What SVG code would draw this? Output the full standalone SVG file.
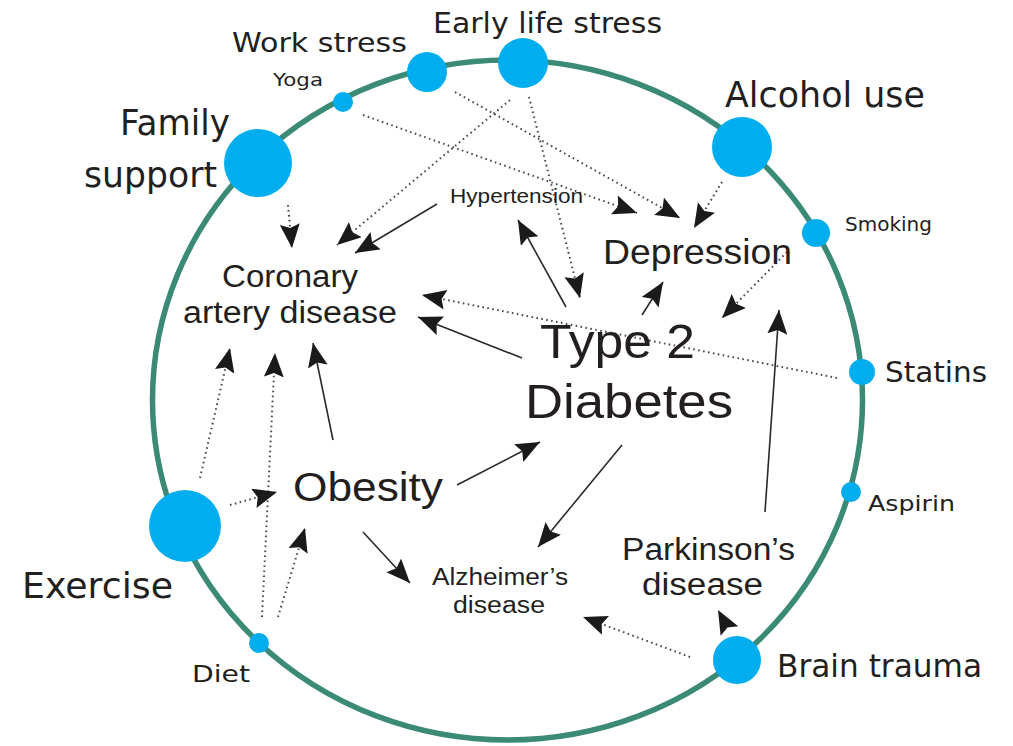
<svg xmlns="http://www.w3.org/2000/svg" width="1013" height="746" viewBox="0 0 1013 746">
<style>
.ring{fill:none;stroke:#3b8a76;stroke-width:5.5}
.dot{fill:#00aeef}
.lbl{font-family:"Comic Sans MS","DejaVu Sans",sans-serif;fill:#231f20}
.in{font-family:"Liberation Sans",Arial,sans-serif;fill:#231f20}
.sol{fill:none;stroke:#2a2a2a;stroke-width:1.6;marker-end:url(#ah)}
.dt{fill:none;stroke:#4a4a4a;stroke-width:2;stroke-dasharray:1.6 3.4;marker-end:url(#ah)}
</style>
<defs>
<marker id="ah" markerUnits="userSpaceOnUse" markerWidth="26" markerHeight="22" refX="24" refY="10" orient="auto">
<path d="M0,0 L24,10 L0,20 L4,10 z" fill="#1a1a1a"/>
</marker>
</defs>
<rect width="1013" height="746" fill="#fff"/>
<ellipse class="ring" cx="507.5" cy="400" rx="355" ry="340"/>

<g id="connectors">
<path class="dt" d="M288,205 L292,248"/>
<path class="dt" d="M510,100 L337,245"/>
<path class="dt" d="M363,115 L637,213"/>
<path class="dt" d="M455,92 L680,218"/>
<path class="dt" d="M722,182 L694,228"/>
<path class="dt" d="M529,97 L580,298"/>
<path class="dt" d="M787,252 L722,318"/>
<path class="dt" d="M837,378 L422,295"/>
<path class="dt" d="M200,478 L230,348"/>
<path class="dt" d="M262,617 L275,353"/>
<path class="dt" d="M278,617 L305,528"/>
<path class="dt" d="M230,505 L277,492"/>
<path class="dt" d="M690,657 L583,617"/>
<path class="sol" d="M437,204 L355,253"/>
<path class="sol" d="M522,358 L418,317"/>
<path class="sol" d="M333,440 L313,343"/>
<path class="sol" d="M457,485 L540,442"/>
<path class="sol" d="M566,307 L518,220"/>
<path class="sol" d="M642,315 L663,282"/>
<path class="sol" d="M622,445 L538,547"/>
<path class="sol" d="M765,512 L779,310"/>
<path class="sol" d="M363,532 L410,583"/>
<path class="sol" style="stroke:none" d="M731,634 L718,610"/>
</g>

<g id="work-stress"><circle class="dot" cx="427" cy="72" r="20"/><text class="lbl" x="232" y="52" font-size="27" textLength="175" lengthAdjust="spacingAndGlyphs">Work stress</text></g>
<g id="early-life-stress"><circle class="dot" cx="523" cy="63" r="25"/><text class="lbl" x="433" y="33" font-size="29" textLength="229" lengthAdjust="spacingAndGlyphs">Early life stress</text></g>
<g id="yoga"><circle class="dot" cx="343" cy="102" r="10"/><text class="lbl" x="273" y="86" font-size="17" textLength="50" lengthAdjust="spacingAndGlyphs">Yoga</text></g>
<g id="family-support"><circle class="dot" cx="258" cy="163" r="34"/><text class="lbl" x="120" y="135" font-size="35" textLength="110" lengthAdjust="spacingAndGlyphs">Family</text><text class="lbl" x="84" y="187" font-size="35" textLength="133" lengthAdjust="spacingAndGlyphs">support</text></g>
<g id="alcohol-use"><circle class="dot" cx="742" cy="147" r="30"/><text class="lbl" x="725" y="107" font-size="35" textLength="200" lengthAdjust="spacingAndGlyphs">Alcohol use</text></g>
<g id="smoking"><circle class="dot" cx="816" cy="233" r="14"/><text class="lbl" x="845" y="231" font-size="19" textLength="87" lengthAdjust="spacingAndGlyphs">Smoking</text></g>
<g id="statins"><circle class="dot" cx="862" cy="372" r="13"/><text class="lbl" x="885" y="382" font-size="28" textLength="102" lengthAdjust="spacingAndGlyphs">Statins</text></g>
<g id="aspirin"><circle class="dot" cx="851" cy="492" r="10"/><text class="lbl" x="868" y="511" font-size="22" textLength="87" lengthAdjust="spacingAndGlyphs">Aspirin</text></g>
<g id="brain-trauma"><circle class="dot" cx="737" cy="660" r="24"/><text class="lbl" x="777" y="677" font-size="32" textLength="205" lengthAdjust="spacingAndGlyphs">Brain trauma</text></g>
<g id="diet"><circle class="dot" cx="259" cy="643" r="10"/><text class="lbl" x="192" y="682" font-size="23" textLength="58" lengthAdjust="spacingAndGlyphs">Diet</text></g>
<g id="exercise"><circle class="dot" cx="185" cy="526" r="36"/><text class="lbl" x="22" y="598" font-size="36" textLength="151" lengthAdjust="spacingAndGlyphs">Exercise</text></g>

<g id="hypertension"><text class="in" x="450" y="203" font-size="21" textLength="133" lengthAdjust="spacingAndGlyphs">Hypertension</text></g>
<g id="coronary-artery-disease"><text class="in" x="222" y="287" font-size="31" textLength="136" lengthAdjust="spacingAndGlyphs">Coronary</text><text class="in" x="183" y="323" font-size="31" textLength="214" lengthAdjust="spacingAndGlyphs">artery disease</text></g>
<g id="depression"><text class="in" x="603" y="264" font-size="35" textLength="189" lengthAdjust="spacingAndGlyphs">Depression</text></g>
<g id="type-2-diabetes"><text class="in" x="540" y="358" font-size="49" textLength="155" lengthAdjust="spacingAndGlyphs">Type 2</text><text class="in" x="525" y="418" font-size="49" textLength="208" lengthAdjust="spacingAndGlyphs">Diabetes</text></g>
<g id="obesity"><text class="in" x="293" y="501" font-size="40" textLength="150" lengthAdjust="spacingAndGlyphs">Obesity</text></g>
<g id="alzheimers-disease"><text class="in" x="432" y="585" font-size="23" textLength="136" lengthAdjust="spacingAndGlyphs">Alzheimer’s</text><text class="in" x="453" y="613" font-size="23" textLength="92" lengthAdjust="spacingAndGlyphs">disease</text></g>
<g id="parkinsons-disease"><text class="in" x="622" y="560" font-size="31" textLength="173" lengthAdjust="spacingAndGlyphs">Parkinson’s</text><text class="in" x="642" y="595" font-size="31" textLength="121" lengthAdjust="spacingAndGlyphs">disease</text></g>
</svg>
